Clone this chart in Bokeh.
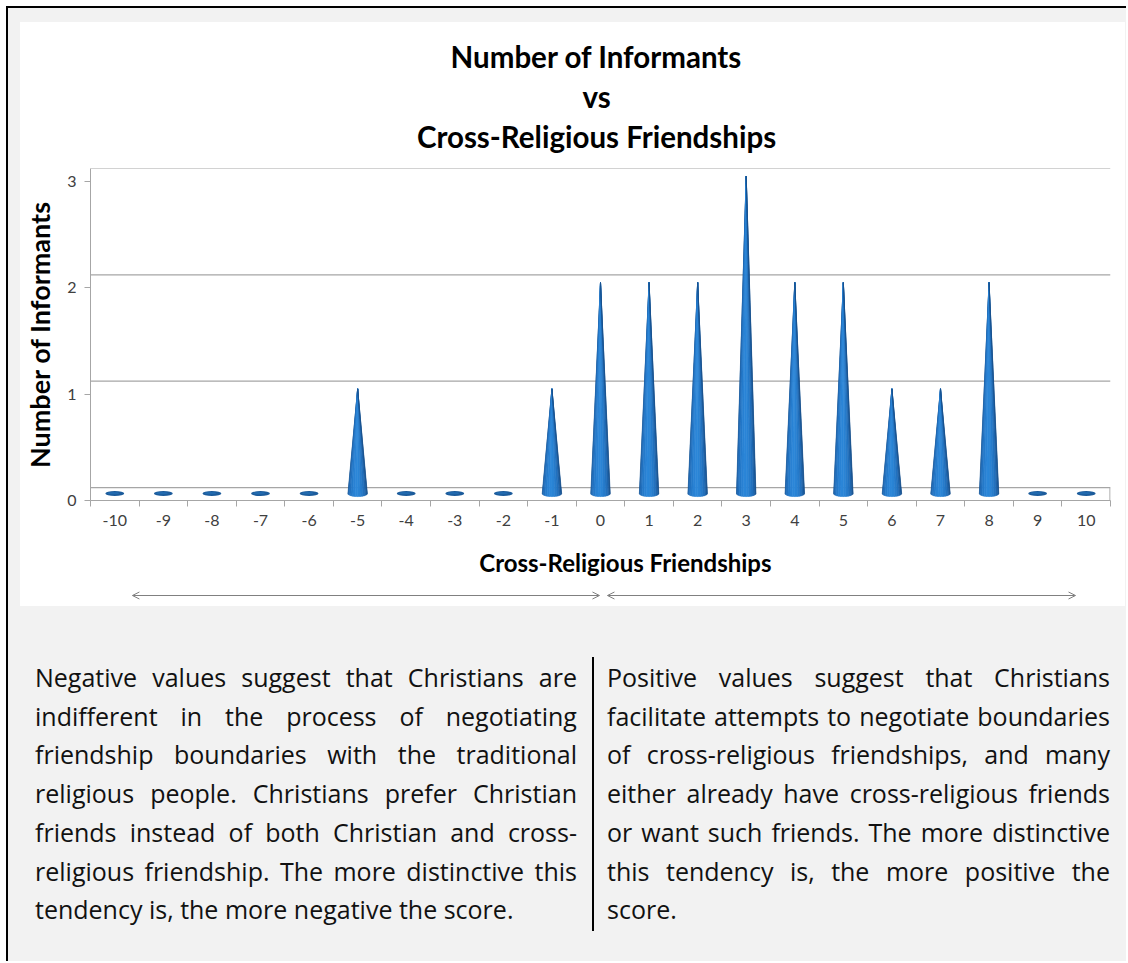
import math
from bokeh.plotting import figure
from bokeh.models import Range1d, FixedTicker, Label, Arrow, OpenHead, Div
from bokeh.layouts import column
from bokeh.embed import file_html
from bokeh.resources import INLINE

# ---------------- data ----------------
categories = list(range(-10, 11))
informants = [0, 0, 0, 0, 0, 1, 0, 0, 0, 1, 2, 2, 2, 3, 2, 2, 1, 1, 2, 0, 0]
y_ticks = [0, 1, 2, 3]
title_lines = ["Number of Informants", "vs", "Cross-Religious Friendships"]
x_title = "Cross-Religious Friendships"
y_title = "Number of Informants"
left_lines = [
    "Negative values suggest that Christians are",
    "indifferent in the process of negotiating",
    "friendship boundaries with the traditional",
    "religious people. Christians prefer Christian",
    "friends instead of both Christian and cross-",
    "religious friendship. The more distinctive this",
    "tendency is, the more negative the score.",
]
right_lines = [
    "Positive values suggest that Christians",
    "facilitate attempts to negotiate boundaries",
    "of cross-religious friendships, and many",
    "either already have cross-religious friends",
    "or want such friends. The more distinctive",
    "this tendency is, the more positive the",
    "score.",
]

# ---------------- style constants ----------------
DEPTH = 0.122        # 3-D depth offset of the back wall (data units)
BASE_Y = 0.065       # centre of cone base ellipse
TIP_EXTRA = 0.05
HALF_W = 0.2         # half width of cone base
ELL_H = 0.028        # half height of base ellipse
GRID = "#a6a6a6"
cone_palette = ["#185594", "#1c63ab", "#206fbd", "#2479c9", "#2981d3", "#2b86d8",
                "#2a84d5", "#267ccc", "#2272c0", "#1e67b0", "#1a5b9e", "#154f8b"]
CHART_FONT = "Lato"
FIG_W = 1105
BORDER_L, BORDER_R = 68, 15
X_RANGE = Range1d(-10.5, 10.5)
WHITE_HOST = {"background-color": "white"}


def strip(height, top_margin=0):
    f = figure(width=FIG_W, height=height, x_range=X_RANGE, y_range=Range1d(0, height),
               output_backend="svg", toolbar_location=None,
               x_axis_location=None, y_axis_location=None,
               min_border_left=BORDER_L, min_border_right=BORDER_R,
               min_border_top=0, min_border_bottom=0,
               margin=(top_margin, 0, 0, 12), styles=WHITE_HOST)
    f.grid.visible = False
    f.outline_line_color = None
    f.background_fill_color = "white"
    f.border_fill_color = "white"
    return f


# ---------------- title strip ----------------
p0 = strip(138, top_margin=14)
for txt, ty in zip(title_lines, [104, 64, 24]):
    p0.add_layout(Label(x=-0.082, y=ty, text=txt, text_align="center", text_baseline="middle",
                        text_font=CHART_FONT, text_font_style="bold", text_font_size="29.5px",
                        text_color="black"))

# ---------------- chart ----------------
p = figure(width=FIG_W, height=375,
           x_range=X_RANGE, y_range=Range1d(0, 3 + DEPTH),
           output_backend="svg", toolbar_location=None,
           min_border_left=BORDER_L, min_border_right=BORDER_R,
           min_border_top=8, min_border_bottom=35,
           margin=(0, 0, 0, 12), styles=WHITE_HOST)
p.grid.visible = False
p.outline_line_color = None
p.background_fill_color = "white"
p.border_fill_color = "white"

# back-wall gridlines + floor
for k in y_ticks:
    yy = k + DEPTH
    p.segment(x0=-10.5, y0=yy, x1=10.5, y1=yy, line_color=GRID, line_width=1.2)
p.segment(x0=10.49, y0=0, x1=10.49, y1=DEPTH, line_color=GRID, line_width=1.2)

# cones
N = len(cone_palette)
for c, v in zip(categories, informants):
    if v <= 0:
        p.ellipse(x=c, y=BASE_Y, width=2 * HALF_W * 0.97, height=0.047,
                  fill_color="#1c5c9c", line_color=None)
        p.ellipse(x=c - 0.03, y=BASE_Y + 0.004, width=2 * HALF_W * 0.6, height=0.022,
                  fill_color="#2470b8", line_color=None, fill_alpha=0.7)
        continue
    xs, ys = [], []
    for i in range(N):
        t0 = math.pi - math.pi * i / N
        t1 = math.pi - math.pi * (i + 1) / N
        xs.append([c + HALF_W * math.cos(t0), c + HALF_W * math.cos(t1), c])
        ys.append([BASE_Y - ELL_H * math.sin(t0), BASE_Y - ELL_H * math.sin(t1), v + TIP_EXTRA])
    p.patches(xs=xs, ys=ys, fill_color=cone_palette, line_color=cone_palette, line_width=0.6)

# y axis
p.yaxis.ticker = FixedTicker(ticks=y_ticks)
p.yaxis.axis_line_color = GRID
p.yaxis.major_tick_line_color = GRID
p.yaxis.major_tick_out = 6
p.yaxis.major_tick_in = 0
p.yaxis.minor_tick_line_color = None
p.yaxis.major_label_standoff = 8
p.yaxis.major_label_text_font = CHART_FONT
p.yaxis.major_label_text_font_size = "16px"
p.yaxis.major_label_text_color = "#404040"
p.yaxis.axis_label = y_title
p.yaxis.axis_label_text_font = CHART_FONT
p.yaxis.axis_label_text_font_style = "bold"
p.yaxis.axis_label_text_font_size = "27px"
p.yaxis.axis_label_text_color = "black"
p.yaxis.axis_label_standoff = 8

# x axis
p.xaxis.ticker = FixedTicker(ticks=categories,
                             minor_ticks=[c - 0.5 for c in categories] + [categories[-1] + 0.5])
p.xaxis.major_label_overrides = {c: str(c) for c in categories}
p.xaxis.axis_line_color = GRID
p.xaxis.major_tick_line_color = None
p.xaxis.major_tick_out = 0
p.xaxis.major_tick_in = 0
p.xaxis.minor_tick_line_color = GRID
p.xaxis.minor_tick_out = 6
p.xaxis.minor_tick_in = 0
p.xaxis.major_label_standoff = 8
p.xaxis.major_label_text_font = CHART_FONT
p.xaxis.major_label_text_font_size = "16px"
p.xaxis.major_label_text_color = "#404040"

# ---------------- strip under the chart: x title and the two double arrows ----------------
p2 = strip(71)
p2.add_layout(Label(x=0.513, y=44, text=x_title, text_align="center", text_baseline="middle",
                    text_font=CHART_FONT, text_font_style="bold", text_font_size="24px",
                    text_color="black"))
for xs_, xe_ in [(-9.637, -0.021), (0.143, 9.78)]:
    p2.add_layout(Arrow(x_start=xs_, y_start=11, x_end=xe_, y_end=11,
                        line_color="#808080", line_width=1,
                        start=OpenHead(size=7, line_color="#808080", line_width=1),
                        end=OpenHead(size=7, line_color="#808080", line_width=1)))

# ---------------- paragraphs ----------------
LINE_H = 38.7
def block(lines, left, width):
    rows = []
    for i, ln in enumerate(lines):
        if i < len(lines) - 1:
            spans = "".join(f"<span>{w}</span>" for w in ln.split(" "))
            rows.append(f'<div style="display:flex;justify-content:space-between;height:{LINE_H}px;'
                        f'align-items:center;white-space:nowrap;">{spans}</div>')
        else:
            rows.append(f'<div style="height:{LINE_H}px;display:flex;align-items:center;'
                        f'white-space:pre;">{ln}</div>')
    return (f'<div style="position:absolute;left:{left}px;top:52.6px;width:{width}px;">'
            + "".join(rows) + "</div>")

html = ('<div style="position:relative;width:1118px;height:355px;background:#f2f2f2;'
        'font-family:\'Open Sans\';font-size:25px;color:#111;">'
        + block(left_lines, 27, 542)
        + '<div style="position:absolute;left:584px;top:51px;width:0;height:274px;'
          'border-left:2px solid #000;"></div>'
        + block(right_lines, 599, 503)
        + "</div>")
div = Div(text=html, width=1118, height=355, margin=0)

layout = column(p0, p, p2, div, margin=(6, 0, 0, 6),
                styles={"background-color": "#f2f2f2",
                        "border-left": "2px solid black",
                        "border-top": "2px solid black"})

open("out.html", "w").write(file_html(layout, INLINE))
